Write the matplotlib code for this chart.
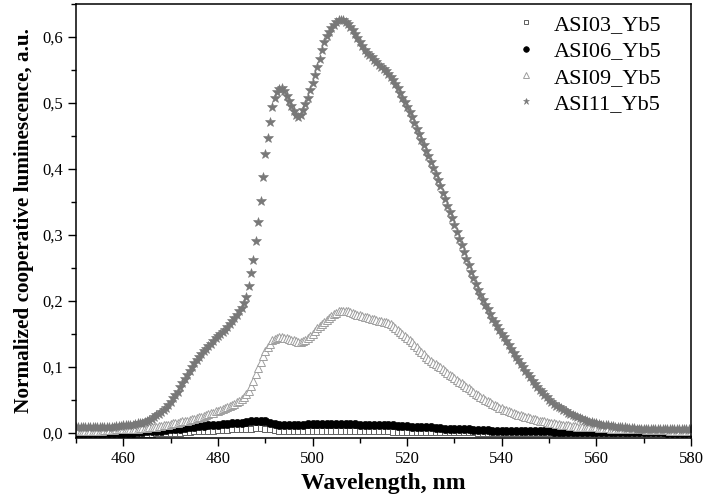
import numpy as np
import matplotlib
matplotlib.use("Agg")
import matplotlib.pyplot as plt
from matplotlib.ticker import MultipleLocator, FuncFormatter

plt.rcParams['font.family'] = ['Liberation Serif', 'DejaVu Serif']

# spectra sampled every 0.5 nm (ASI09, ASI11) and every 1 nm (ASI03, ASI06)
wl_fine = np.arange(450, 580.25, 0.5)
wl_coarse = np.arange(450, 581, 1.0)

asi11 = [
    0.008, 0.008, 0.008, 0.008, 0.008, 0.008, 0.008, 0.008, 0.008, 0.008,  # 450
    0.008, 0.008, 0.008, 0.009, 0.009, 0.009, 0.009, 0.010, 0.010, 0.010,  # 455
    0.011, 0.011, 0.011, 0.012, 0.012, 0.013, 0.014, 0.014, 0.015, 0.016,  # 460
    0.018, 0.019, 0.021, 0.023, 0.026, 0.028, 0.031, 0.034, 0.038, 0.042,  # 465
    0.047, 0.052, 0.057, 0.062, 0.069, 0.075, 0.081, 0.087, 0.093, 0.099,  # 470
    0.105, 0.110, 0.115, 0.119, 0.123, 0.127, 0.131, 0.135, 0.139, 0.143,  # 475
    0.147, 0.150, 0.153, 0.156, 0.160, 0.164, 0.169, 0.174, 0.179, 0.184,  # 480
    0.189, 0.196, 0.205, 0.222, 0.242, 0.262, 0.290, 0.319, 0.352, 0.387,  # 485
    0.422, 0.447, 0.471, 0.494, 0.507, 0.516, 0.521, 0.523, 0.518, 0.511,  # 490
    0.503, 0.495, 0.488, 0.482, 0.479, 0.481, 0.489, 0.498, 0.508, 0.519,  # 495
    0.530, 0.542, 0.555, 0.567, 0.580, 0.593, 0.602, 0.608, 0.613, 0.618,  # 500
    0.622, 0.625, 0.626, 0.625, 0.623, 0.619, 0.615, 0.610, 0.604, 0.598,  # 505
    0.592, 0.586, 0.581, 0.576, 0.572, 0.569, 0.565, 0.562, 0.558, 0.555,  # 510
    0.552, 0.548, 0.544, 0.540, 0.535, 0.529, 0.522, 0.515, 0.508, 0.501,  # 515
    0.494, 0.486, 0.478, 0.470, 0.461, 0.453, 0.444, 0.436, 0.427, 0.419,  # 520
    0.410, 0.401, 0.392, 0.383, 0.374, 0.364, 0.354, 0.344, 0.334, 0.325,  # 525
    0.315, 0.304, 0.294, 0.284, 0.274, 0.264, 0.254, 0.244, 0.235, 0.226,  # 530
    0.217, 0.209, 0.201, 0.194, 0.187, 0.180, 0.173, 0.167, 0.161, 0.155,  # 535
    0.150, 0.145, 0.139, 0.133, 0.127, 0.121, 0.115, 0.110, 0.104, 0.099,  # 540
    0.094, 0.089, 0.084, 0.079, 0.074, 0.069, 0.064, 0.061, 0.057, 0.054,  # 545
    0.050, 0.047, 0.044, 0.041, 0.039, 0.037, 0.034, 0.032, 0.030, 0.028,  # 550
    0.026, 0.025, 0.023, 0.022, 0.020, 0.019, 0.018, 0.016, 0.016, 0.015,  # 555
    0.014, 0.013, 0.012, 0.012, 0.011, 0.011, 0.010, 0.010, 0.009, 0.009,  # 560
    0.008, 0.008, 0.008, 0.007, 0.007, 0.007, 0.007, 0.006, 0.006, 0.006,  # 565
    0.006, 0.006, 0.006, 0.006, 0.006, 0.006, 0.005, 0.005, 0.005, 0.005,  # 570
    0.005, 0.005, 0.005, 0.005, 0.005, 0.005, 0.005, 0.005, 0.005, 0.005,  # 575
    0.005,                                                                  # 580
]

asi09 = [
    0.002, 0.002, 0.002, 0.002, 0.002, 0.003, 0.003, 0.003, 0.003, 0.003,  # 450
    0.003, 0.003, 0.004, 0.004, 0.004, 0.004, 0.004, 0.005, 0.005, 0.005,  # 455
    0.005, 0.005, 0.005, 0.006, 0.006, 0.006, 0.006, 0.007, 0.007, 0.007,  # 460
    0.007, 0.008, 0.008, 0.009, 0.009, 0.010, 0.010, 0.011, 0.011, 0.012,  # 465
    0.013, 0.014, 0.015, 0.015, 0.016, 0.017, 0.018, 0.018, 0.019, 0.020,  # 470
    0.021, 0.022, 0.023, 0.024, 0.025, 0.026, 0.028, 0.029, 0.030, 0.032,  # 475
    0.033, 0.034, 0.036, 0.037, 0.039, 0.040, 0.042, 0.044, 0.046, 0.048,  # 480
    0.051, 0.054, 0.058, 0.063, 0.070, 0.079, 0.089, 0.098, 0.107, 0.116,  # 485
    0.124, 0.130, 0.135, 0.140, 0.142, 0.144, 0.145, 0.145, 0.144, 0.143,  # 490
    0.142, 0.141, 0.140, 0.139, 0.138, 0.138, 0.139, 0.141, 0.144, 0.147,  # 495
    0.150, 0.154, 0.158, 0.161, 0.165, 0.168, 0.171, 0.174, 0.177, 0.180,  # 500
    0.182, 0.184, 0.185, 0.185, 0.185, 0.184, 0.183, 0.182, 0.180, 0.179,  # 505
    0.178, 0.177, 0.176, 0.175, 0.174, 0.173, 0.172, 0.171, 0.170, 0.169,  # 510
    0.168, 0.167, 0.166, 0.164, 0.162, 0.158, 0.155, 0.152, 0.149, 0.146,  # 515
    0.143, 0.140, 0.137, 0.133, 0.130, 0.126, 0.122, 0.119, 0.115, 0.112,  # 520
    0.109, 0.106, 0.104, 0.101, 0.099, 0.096, 0.094, 0.091, 0.088, 0.086,  # 525
    0.083, 0.080, 0.077, 0.075, 0.072, 0.069, 0.067, 0.064, 0.062, 0.059,  # 530
    0.057, 0.054, 0.052, 0.050, 0.048, 0.046, 0.044, 0.042, 0.040, 0.038,  # 535
    0.037, 0.035, 0.034, 0.032, 0.031, 0.030, 0.028, 0.027, 0.026, 0.025,  # 540
    0.024, 0.023, 0.022, 0.021, 0.020, 0.019, 0.018, 0.017, 0.017, 0.016,  # 545
    0.015, 0.015, 0.014, 0.013, 0.013, 0.012, 0.012, 0.011, 0.011, 0.010,  # 550
    0.010, 0.010, 0.009, 0.009, 0.009, 0.009, 0.008, 0.008, 0.008, 0.008,  # 555
    0.008, 0.007, 0.007, 0.007, 0.007, 0.007, 0.006, 0.006, 0.006, 0.006,  # 560
    0.006, 0.006, 0.006, 0.005, 0.005, 0.005, 0.005, 0.005, 0.005, 0.005,  # 565
    0.005, 0.004, 0.004, 0.004, 0.004, 0.004, 0.004, 0.004, 0.004, 0.004,  # 570
    0.004, 0.003, 0.003, 0.003, 0.003, 0.003, 0.003, 0.003, 0.003, 0.003,  # 575
    0.003,                                                                  # 580
]

asi06 = [
    0.000, 0.000, 0.000, 0.000, 0.000, 0.000, 0.000, 0.000, 0.000, 0.000,  # 450
    0.000, 0.000, 0.000, 0.001, 0.001, 0.002, 0.002, 0.003, 0.003, 0.004,  # 460
    0.005, 0.005, 0.006, 0.007, 0.008, 0.009, 0.010, 0.010, 0.011, 0.012,  # 470
    0.012, 0.013, 0.013, 0.014, 0.014, 0.015, 0.016, 0.017, 0.018, 0.018,  # 480
    0.017, 0.015, 0.013, 0.012, 0.012, 0.012, 0.012, 0.012, 0.012, 0.013,  # 490
    0.013, 0.013, 0.013, 0.013, 0.013, 0.013, 0.013, 0.013, 0.013, 0.013,  # 500
    0.012, 0.012, 0.012, 0.012, 0.012, 0.011, 0.011, 0.011, 0.010, 0.010,  # 510
    0.010, 0.009, 0.009, 0.008, 0.008, 0.008, 0.007, 0.007, 0.006, 0.006,  # 520
    0.006, 0.005, 0.005, 0.005, 0.004, 0.004, 0.004, 0.004, 0.003, 0.003,  # 530
    0.003, 0.003, 0.003, 0.002, 0.002, 0.002, 0.002, 0.002, 0.002, 0.002,  # 540
    0.002, 0.001, 0.001, 0.001, 0.001, 0.001, 0.001, 0.001, 0.001, 0.001,  # 550
    0.001, 0.001, 0.001, 0.001, 0.001, 0.001, 0.001, 0.001, 0.001, 0.001,  # 560
    0.001, 0.001, 0.001, 0.001, 0.001, 0.000, 0.000, 0.000, 0.000, 0.000,  # 570
    0.000,                                                                  # 580
]

asi03 = [
    -0.002, -0.002, -0.002, -0.002, -0.002, -0.002, -0.002, -0.002, -0.002, -0.002,  # 450
    -0.002, -0.002, -0.002, -0.002, -0.002, -0.002, -0.002, -0.001, -0.001, -0.001,  # 460
    0.000, 0.000, 0.000, 0.001, 0.001, 0.002, 0.002, 0.003, 0.003, 0.003,  # 470
    0.004, 0.004, 0.004, 0.005, 0.005, 0.005, 0.006, 0.006, 0.007, 0.007,  # 480
    0.006, 0.005, 0.004, 0.003, 0.003, 0.002, 0.002, 0.002, 0.002, 0.002,  # 490
    0.002, 0.002, 0.002, 0.002, 0.002, 0.002, 0.002, 0.002, 0.002, 0.002,  # 500
    0.002, 0.002, 0.002, 0.002, 0.002, 0.002, 0.002, 0.001, 0.001, 0.001,  # 510
    0.001, 0.001, 0.001, 0.001, 0.001, 0.001, 0.001, 0.001, 0.001, 0.001,  # 520
    0.001, 0.001, 0.001, 0.001, 0.001, 0.000, 0.000, 0.000, 0.000, 0.000,  # 530
    0.000, 0.000, 0.000, 0.000, 0.000, 0.000, 0.000, 0.000, 0.000, 0.000,  # 540
    -0.001, -0.001, -0.001, -0.001, -0.001, -0.001, -0.001, -0.001, -0.001, -0.001,  # 550
    -0.001, -0.001, -0.001, -0.001, -0.001, -0.001, -0.001, -0.001, -0.001, -0.001,  # 560
    -0.001, -0.001, -0.001, -0.001, -0.001, -0.001, -0.001, -0.001, -0.001, -0.001,  # 570
    -0.001,                                                                           # 580
]

assert len(asi11) == len(wl_fine) and len(asi09) == len(wl_fine)
assert len(asi06) == len(wl_coarse) and len(asi03) == len(wl_coarse)

fig = plt.figure(figsize=(7.04, 5.01), dpi=100)
ax = fig.add_axes([0.108, 0.126, 0.8735, 0.866])

ax.plot(wl_coarse, asi03, ls='none', marker='s', ms=4.4, mfc='white',
        mec='#5e5e5e', mew=0.7, label='ASI03_Yb5')
ax.plot(wl_coarse, asi06, ls='none', marker='o', ms=5.8, mfc='black',
        mec='black', mew=0.5, label='ASI06_Yb5')
ax.plot(wl_fine, asi09, ls='none', marker='^', ms=6.0, mfc='white',
        mec='#9e9e9e', mew=0.7, label='ASI09_Yb5')
ax.plot(wl_fine, asi11, ls='none', marker='*', ms=7.0, mfc='#787878',
        mec='#787878', mew=0.4, label='ASI11_Yb5')

ax.set_xlim(450, 580)
ax.set_ylim(-0.008, 0.65)

ax.xaxis.set_major_locator(MultipleLocator(20))
ax.xaxis.set_minor_locator(MultipleLocator(10))
ax.yaxis.set_major_locator(MultipleLocator(0.1))
ax.yaxis.set_minor_locator(MultipleLocator(0.05))
ax.set_xticks(np.arange(460, 581, 20))
ax.yaxis.set_major_formatter(FuncFormatter(lambda v, p: f"{v:.1f}".replace('.', ',')))

ax.tick_params(which='both', direction='out', top=False, right=False,
               labelsize=12, width=1.0)
ax.tick_params(which='major', length=6)
ax.tick_params(which='minor', length=3.5)
for sp in ax.spines.values():
    sp.set_linewidth(1.1)

ax.set_xlabel('Wavelength, nm', fontsize=17, fontweight='bold', labelpad=4)
ax.set_ylabel('Normalized cooperative luminescence, a.u.', fontsize=15.3,
              fontweight='bold', labelpad=6)

ax.legend(loc='upper right', bbox_to_anchor=(0.985, 1.022), frameon=False,
          fontsize=16, numpoints=1, markerscale=0.7, handlelength=1.3,
          handletextpad=0.6, labelspacing=0.26)

fig.savefig('out.png', dpi=100)
